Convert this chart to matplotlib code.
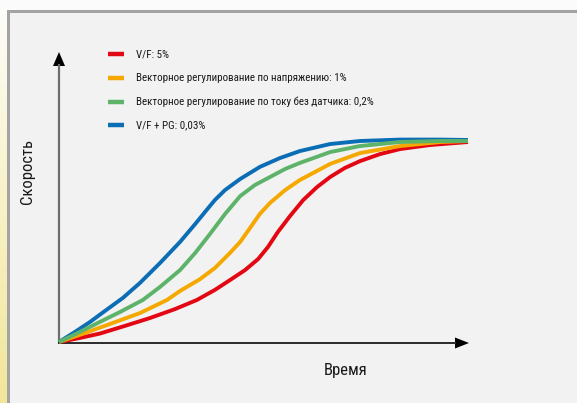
import matplotlib
matplotlib.use("Agg")
import matplotlib.pyplot as plt
import numpy as np
from matplotlib.patches import Polygon, Rectangle
from matplotlib import font_manager as fm

# ---- pick a narrow sans font if one is available ----
fams = {}
for f in fm.fontManager.ttflist:
    fams.setdefault(f.name, set()).add(str(f.stretch))
FONT, STRETCH = "DejaVu Sans", "normal"
for cand in ["Roboto Condensed", "Liberation Sans Narrow", "Open Sans Condensed", "Noto Sans Condensed"]:
    if cand in fams:
        FONT = cand
        break
else:
    for fam in ["Noto Sans", "Open Sans", "Roboto", "DejaVu Sans"]:
        if fam in fams and any(s in ("condensed", "semi-condensed", "75", "87.5") for s in fams[fam]):
            FONT, STRETCH = fam, "condensed"
            break
    else:
        FONT = "Roboto" if "Roboto" in fams else "DejaVu Sans"
plt.rcParams['font.family'] = [FONT, 'DejaVu Sans']

# ---- data (time 0..100, speed 0..100) ----
labels = ["V/F: 5%",
          "Векторное регулирование по напряжению: 1%",
          "Векторное регулирование по току без датчика: 0,2%",
          "V/F + PG: 0,03%"]
colors = ["#e30613", "#f5a800", "#5db36a", "#0b6db5"]

red_t = [0, 5.1, 10.0, 16.1, 22.2, 28.4, 33.7, 38.1, 41.8, 45.5, 48.7, 51.1, 53.5, 56.5,
         59.7, 63.1, 66.3, 69.9, 73.6, 78.5, 83.4, 90.7, 100]
red_v = [0, 2.0, 4.2, 8.0, 11.9, 16.4, 20.9, 25.9, 30.8, 35.8, 41.3, 47.3, 54.7, 62.7,
         70.6, 77.1, 82.1, 86.6, 90.0, 93.5, 96.0, 98.0, 99.5]

orange_t = [0, 6.4, 12.5, 19.8, 26.4, 29.6, 34.5, 38.1, 41.8, 44.3, 46.7, 49.1, 51.6, 55.3,
            58.9, 66.3, 73.6, 83.4, 93.2, 100]
orange_v = [0, 4.5, 9.0, 14.4, 20.9, 25.4, 31.3, 36.8, 44.3, 49.8, 56.7, 63.7, 69.2, 75.6,
            80.6, 88.6, 94.0, 97.5, 99.5, 100]

green_t = [0, 5.1, 10.0, 14.9, 20.5, 24.7, 29.6, 33.3, 36.9, 40.6, 44.3, 47.9, 51.6, 55.3,
           58.9, 66.3, 73.6, 83.4, 93.2, 100]
green_v = [0, 5.0, 10.0, 14.9, 20.9, 27.4, 35.8, 44.3, 53.7, 63.7, 72.6, 78.1, 82.1, 86.1,
           89.1, 94.5, 97.5, 99.5, 100, 100]

blue_t = [0, 3.9, 7.6, 11.2, 15.6, 19.8, 24.7, 29.6, 33.3, 35.7, 38.1, 40.6, 44.3, 49.1,
          54.0, 58.9, 66.3, 73.6, 83.4, 93.2, 100]
blue_v = [0, 5.0, 10.0, 15.4, 21.9, 29.4, 39.3, 49.8, 58.7, 64.7, 70.6, 75.6, 81.1, 87.1,
          91.5, 95.0, 98.5, 100, 100.7, 100.7, 100.5]

series = [(red_t, red_v), (orange_t, orange_v), (green_t, green_v), (blue_t, blue_v)]

W, H = 577, 403
fig = plt.figure(figsize=(W / 100, H / 100), dpi=100)
fig.patch.set_facecolor("#f2f2f2")
renderer = fig.canvas.get_renderer()

# background / decoration axes in pixel coordinates
bg = fig.add_axes([0, 0, 1, 1])
bg.axis("off")
bg.add_patch(Rectangle((0, 0), W, 10, color="#fbfbfb", lw=0))
grad = np.linspace(0, 1, 200).reshape(-1, 1)
cmap = matplotlib.colors.LinearSegmentedColormap.from_list("y", ["#fdfdfb", "#f8f2c8", "#f1e69a"])
bg.imshow(grad, extent=(0, 7, H, 0), aspect="auto", cmap=cmap, origin="upper")
bg.add_patch(Rectangle((7, 10), W, 2.5, color="#a3a3a3", lw=0))
bg.add_patch(Rectangle((7, 10), 2.5, H, color="#a3a3a3", lw=0))
bg.set_xlim(0, W)
bg.set_ylim(H, 0)

# axis arrows
bg.plot([59, 59], [343, 64], color="#6e6e6e", lw=1.6, solid_capstyle="butt")
bg.add_patch(Polygon([[59, 52], [53, 66], [65, 66]], closed=True, color="black", lw=0))
bg.plot([58, 456], [343, 343], color="#2a2a2a", lw=1.4, solid_capstyle="butt")
bg.add_patch(Polygon([[469, 343], [455, 337.5], [455, 348.5]], closed=True, color="black", lw=0))


def fit_size(txt, target_w, max_size, **kw):
    t = bg.text(0, 0, txt, fontsize=10, fontstretch=STRETCH, **kw)
    w = t.get_window_extent(renderer).width
    t.remove()
    return min(max_size, 10 * target_w / w)


leg_fs = fit_size(labels[2], 237, 8.5)
lab_fs_x = fit_size("Время", 44, 12)
lab_fs_y = fit_size("Скорость", 65, 12)
lab_fs = min(lab_fs_x, lab_fs_y)

# legend
leg_y = [54, 78, 102, 125]
for lab, c, yy in zip(labels, colors, leg_y):
    bg.plot([108, 124], [yy, yy], color=c, lw=3.2, solid_capstyle="butt")
    bg.text(136, yy, lab, fontsize=leg_fs, fontstretch=STRETCH, va="center", ha="left", color="#1a1a1a")

bg.text(346, 370, "Время", fontsize=lab_fs, fontstretch=STRETCH, ha="center", va="center", color="#1a1a1a")
bg.text(27, 172, "Скорость", fontsize=lab_fs, fontstretch=STRETCH, ha="center", va="center",
        rotation=90, color="#1a1a1a")

# main data axes
ax = fig.add_axes([59 / W, (H - 342) / H, 409 / W, 201 / H])
ax.set_xlim(0, 100)
ax.set_ylim(0, 100)
ax.axis("off")
ax.patch.set_alpha(0)
order = [0, 1, 3, 2]
for i in order:
    t, v = series[i]
    ax.plot(t, v, color=colors[i], lw=2.8, clip_on=False, solid_capstyle="butt", solid_joinstyle="round")

fig.savefig("out.png", dpi=100, facecolor=fig.get_facecolor())
